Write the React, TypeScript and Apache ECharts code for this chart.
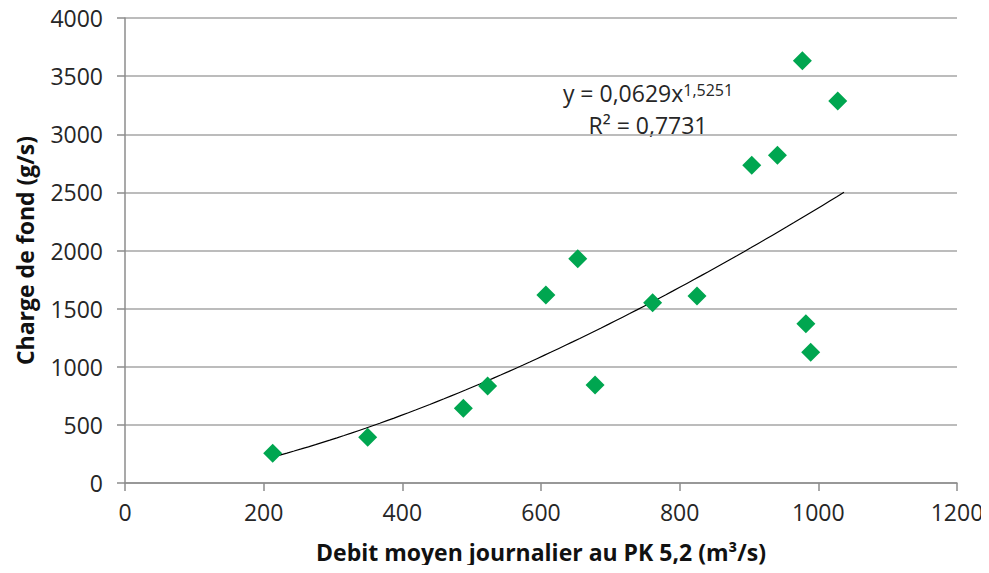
import React, { useEffect, useRef } from "react";
import * as echarts from "echarts";

const debit = [213, 350, 488, 523, 607, 653, 678, 761, 825, 904, 941, 977, 982, 989, 1028];
const charge = [255, 393, 642, 834, 1617, 1930, 843, 1550, 1608, 2733, 2819, 3633, 1370, 1124, 3286];

// Power trendline shown on the chart: y = a * x^b, drawn over the range
const trendCoef = [0.0629, 1.5251];
const trendRange = [213, 1037];
const trendSteps = 80;

const xTitle = "Debit moyen journalier au PK 5,2 (m³/s)";
const yTitle = "Charge de fond (g/s)";

const FONT = "'Open Sans', 'DejaVu Sans', sans-serif";

export default function App() {
  const ref = useRef<HTMLDivElement>(null);
  useEffect(() => {
    if (!ref.current) return;
    const chart = echarts.init(ref.current, undefined, { renderer: "svg" });
    const [xmin, xmax] = trendRange;
    const trend: number[][] = [];
    for (let i = 0; i <= trendSteps; i++) {
      const x = xmin + ((xmax - xmin) * i) / trendSteps;
      trend.push([x, trendCoef[0] * Math.pow(x, trendCoef[1])]);
    }
    const pts = debit.map((x, i) => [x, charge[i]]);
    chart.setOption({
      animation: false,
      backgroundColor: "#ffffff",
      textStyle: { fontFamily: FONT },
      grid: { left: 125, right: 32, top: 18, bottom: 90 },
      xAxis: {
        type: "value",
        min: 0,
        max: 1200,
        interval: 200,
        name: xTitle,
        nameLocation: "middle",
        nameGap: 57,
        nameTextStyle: { fontSize: 23, fontWeight: "bold", color: "#111", fontFamily: FONT },
        axisLine: { show: true, lineStyle: { color: "#8c8c8c", width: 1.5 } },
        axisTick: { show: true, length: 8, lineStyle: { color: "#8c8c8c", width: 1.5 } },
        axisLabel: {
          fontSize: 23,
          color: "#262626",
          margin: 17,
          fontFamily: FONT,
          formatter: (v: number) => String(v),
        },
        splitLine: { show: false },
      },
      yAxis: {
        type: "value",
        min: 0,
        max: 4000,
        interval: 500,
        name: yTitle,
        nameLocation: "middle",
        nameGap: 89,
        nameRotate: 90,
        nameTextStyle: { fontSize: 23, fontWeight: "bold", color: "#111", fontFamily: FONT },
        axisLine: { show: true, lineStyle: { color: "#8c8c8c", width: 1.5 } },
        axisTick: { show: true, length: 8, lineStyle: { color: "#8c8c8c", width: 1.5 } },
        axisLabel: {
          fontSize: 23,
          color: "#262626",
          margin: 22,
          fontFamily: FONT,
          formatter: (v: number) => String(v),
        },
        splitLine: { show: true, lineStyle: { color: "#a6a6a6", width: 1.5 } },
      },
      series: [
        {
          type: "line",
          data: trend,
          showSymbol: false,
          symbol: "none",
          lineStyle: { color: "#000", width: 1.2 },
          z: 3,
        },
        {
          type: "scatter",
          data: pts,
          symbol: "diamond",
          symbolSize: 19,
          itemStyle: { color: "#00a650", opacity: 1 },
          z: 4,
        },
      ],
      graphic: [
        {
          type: "text",
          x: 648,
          y: 93,
          style: {
            text: "y = 0,0629x{sup|1,5251}",
            fontSize: 23,
            fontFamily: FONT,
            fill: "#262626",
            align: "center",
            verticalAlign: "middle",
            rich: {
              sup: { fontSize: 16, verticalAlign: "top", fontFamily: FONT, fill: "#262626" },
            },
          },
        },
        {
          type: "text",
          x: 648,
          y: 125,
          style: {
            text: "R² = 0,7731",
            fontSize: 23,
            fontFamily: FONT,
            fill: "#262626",
            align: "center",
            verticalAlign: "middle",
          },
        },
      ],
    });
    return () => chart.dispose();
  }, []);
  return <div ref={ref} style={{ width: 989, height: 573, margin: -8 }} />;
}
